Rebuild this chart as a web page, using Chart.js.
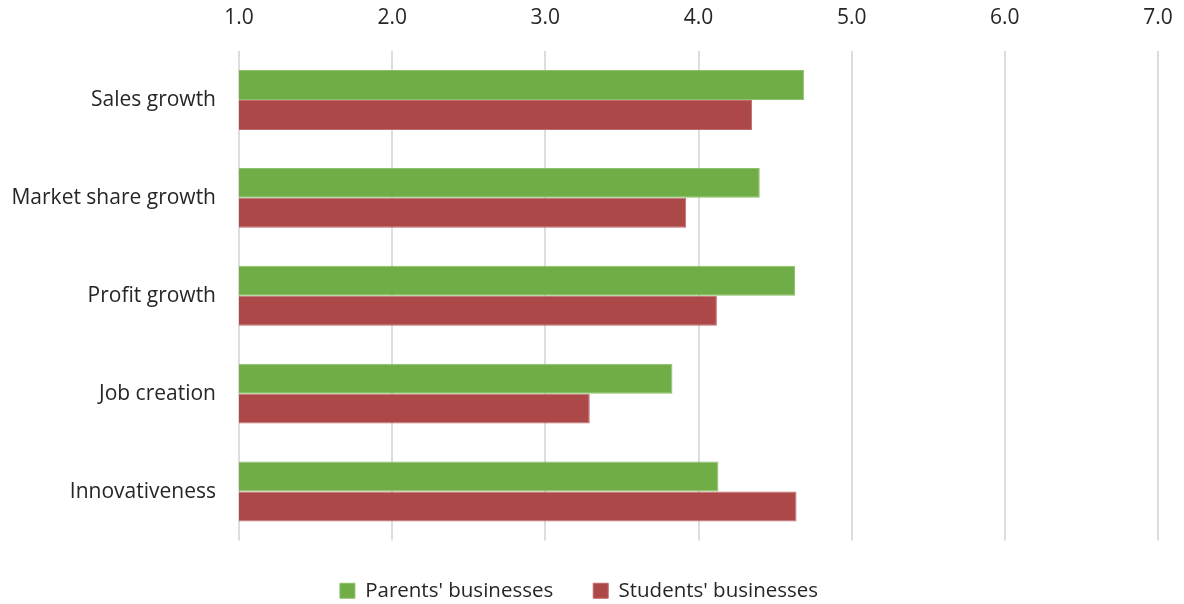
<!DOCTYPE html>
<html>
<head>
<meta charset="utf-8">
<script src="https://cdn.jsdelivr.net/npm/chart.js@4"></script>
<style>
html,body{margin:0;padding:0;background:#fff;}
#wrap{width:1184px;height:604px;}
</style>
</head>
<body>
<div id="wrap"><canvas id="c" width="1184" height="604"></canvas></div>
<script>
const categories = ["Sales growth", "Market share growth", "Profit growth", "Job creation", "Innovativeness"];
const parentsValues = [4.69, 4.40, 4.63, 3.83, 4.13];
const studentsValues = [4.35, 3.92, 4.12, 3.29, 4.64];
const seriesNames = ["Parents' businesses", "Students' businesses"];
const axisMin = 1, axisMax = 7, axisStep = 1;

const FONT = "'Open Sans', 'Liberation Sans', sans-serif";

new Chart(document.getElementById('c'), {
  type: 'bar',
  data: {
    labels: categories,
    datasets: [
      { label: seriesNames[0], data: parentsValues, backgroundColor: '#70AD47', borderColor: '#8DC16A', borderWidth: 1, borderSkipped: false },
      { label: seriesNames[1], data: studentsValues, backgroundColor: '#AD4848', borderColor: '#C06A6A', borderWidth: 1, borderSkipped: false }
    ]
  },
  options: {
    indexAxis: 'y',
    responsive: false,
    animation: false,
    devicePixelRatio: 1,
    layout: { padding: { left: 0, right: 26, top: 0, bottom: -7 } },
    datasets: { bar: { categoryPercentage: 0.612, barPercentage: 1.0 } },
    scales: {
      x: {
        position: 'top',
        min: axisMin, max: axisMax,
        ticks: { stepSize: axisStep, callback: v => Number(v).toFixed(1), color: '#262626', font: { family: FONT, size: 21 }, padding: 20 },
        grid: { color: '#DDDDDD', lineWidth: 2, drawTicks: false },
        border: { display: false },
        afterFit: s => { s.height = 51; s.paddingLeft = 0; s.paddingRight = 0; }
      },
      y: {
        ticks: { color: '#262626', font: { family: FONT, size: 21 }, padding: 23 },
        grid: { display: false, drawTicks: false },
        border: { display: false },
        afterFit: s => { s.width = 239; }
      }
    },
    plugins: {
      legend: {
        position: 'bottom',
        labels: { boxWidth: 15, boxHeight: 15, color: '#262626', font: { family: FONT, size: 20.5 }, padding: 40 }
      },
      tooltip: { enabled: false }
    }
  }
});
</script>
</body>
</html>
